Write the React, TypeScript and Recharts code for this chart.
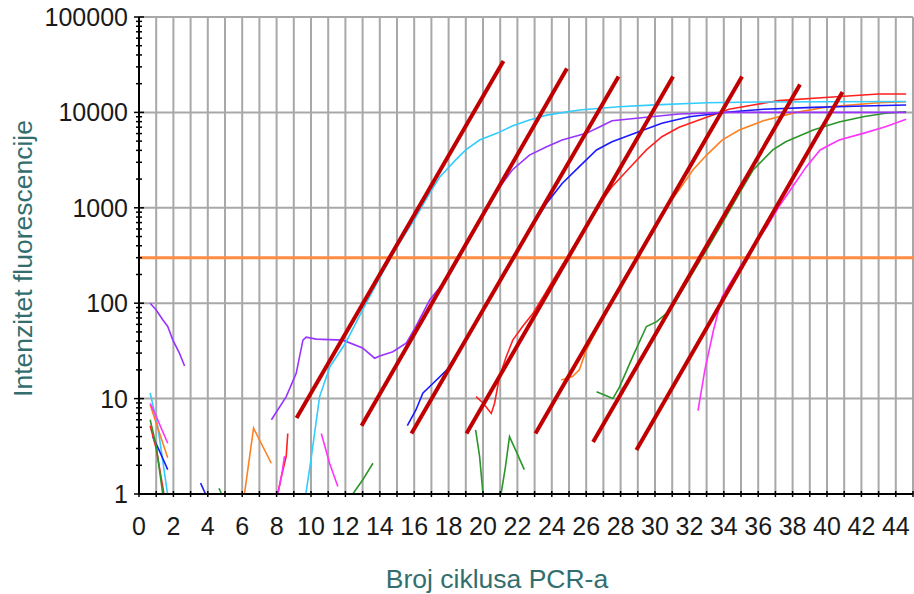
import { LineChart, Line, XAxis, YAxis, CartesianGrid, Label } from "recharts";

type Pair = [number, number];

// y-axis decades (log scale) and x cycles
const yDecades = [1, 10, 100, 1000, 10000, 100000];
const yTicks = yDecades.flatMap((d) => (d === 100000 ? [d] : [1, 2, 3, 4, 5, 6, 7, 8, 9].map((m) => m * d)));
const xTicks = Array.from({ length: 46 }, (_, i) => i);

const threshold = 300;

// amplification curves (cycle, fluorescence)
const cyanEarly: Pair[] = [[0.65, 11.5], [1.1, 5], [1.66, 1]];
const cyanMain: Pair[] = [
  [9.7, 1], [10.0, 2.3], [10.5, 10.5], [11.1, 21.6], [12, 38], [13, 85], [14, 185], [15, 390], [16, 750],
  [16.9, 1430], [17.5, 2120], [18.4, 3160], [19, 4040], [19.8, 5130], [20.8, 6030], [21.7, 7200], [22.7, 8320],
  [23.7, 9360], [25.6, 10600], [27.9, 11480], [30, 12000], [33, 12600], [36, 12850], [40, 12950], [44.6, 13000],
];

const purpleEarly: Pair[] = [[0.65, 100], [1.0, 85], [1.38, 67], [1.67, 57], [1.97, 41], [2.35, 30], [2.65, 22]];
const purpleMain: Pair[] = [
  [7.7, 6], [8.56, 10.5], [9.14, 18.4], [9.53, 41], [9.72, 44], [10.3, 42], [11.85, 41], [13.0, 34], [13.7, 26.5],
  [14.0, 28], [14.76, 31], [15.53, 38], [16.1, 57], [16.9, 108], [18, 190], [19, 400], [20, 820], [21, 1680],
  [21.7, 2490], [22.7, 3570], [23.7, 4370], [24.6, 5130], [26, 6030], [26.8, 7080], [27.5, 8180], [29.5, 8900],
  [31.4, 9620], [34.3, 10000], [44.6, 10000],
];

const blueEarly: Pair[] = [[0.8, 4], [1.2, 2.8], [1.67, 1.8]];
const blueDot: Pair[] = [[3.58, 1.3], [3.87, 1]];
const blueMain: Pair[] = [
  [15.6, 5.2], [16.1, 7.6], [16.5, 11.4], [17.1, 14.5], [17.9, 20], [18.6, 32], [19.2, 48], [20, 85], [21, 170],
  [21.7, 284], [22.7, 585], [23.7, 1115], [24.6, 1800], [25.6, 2700], [26.6, 4040], [27.5, 4930], [28.9, 6120],
  [30.4, 7690], [32, 9020], [34.3, 10100], [36.3, 10800], [39.2, 11300], [42.1, 11670], [44.6, 11960],
];

const redEarly: Pair[] = [[0.65, 5.2], [1.0, 3], [1.45, 1]];
const redNoise: Pair[] = [[8.07, 1], [8.27, 1.5], [8.56, 2.5], [8.65, 4.3]];
const redMain: Pair[] = [
  [19.6, 10.5], [20.0, 9], [20.48, 7], [20.67, 8.9], [20.96, 17], [21.35, 27.5], [21.73, 41], [22.3, 57],
  [22.9, 78], [23.5, 117], [24, 166], [25, 328], [26, 646], [26.8, 1115], [27.5, 1660], [28.5, 2600],
  [29.5, 4040], [30.4, 5560], [31.4, 6980], [33, 8890], [34.3, 10800], [35.7, 11960], [37.2, 13300],
  [40.1, 14400], [43, 15600], [44.6, 15600],
];

const orangeEarly: Pair[] = [[0.65, 8.6], [1.0, 5.5], [1.67, 2.4]];
const orangeBump: Pair[] = [[6.13, 1], [6.66, 4.9], [7.69, 2.1]];
const orangeMain: Pair[] = [
  [24.55, 15.7], [25.2, 17], [25.6, 20], [26, 32], [26.4, 44.6], [26.9, 67], [28, 148], [29, 300], [30, 616],
  [30.8, 1115], [31.4, 1540], [32.2, 2490], [33, 3570], [33.9, 5130], [34.9, 6540], [36.3, 8180], [38.2, 10000],
  [40.1, 11480], [43, 12600], [44.6, 12950],
];

const greenEarly: Pair[] = [[0.65, 6], [1.0, 3.2], [1.38, 1]];
const greenDot: Pair[] = [[4.65, 1.15], [4.8, 1]];
const greenNoiseA: Pair[] = [[12.43, 1], [13.0, 1.4], [13.6, 2.1]];
const greenNoiseB: Pair[] = [[19.57, 4.7], [19.8, 2.5], [20, 1]];
const greenNoiseC: Pair[] = [[21.05, 1], [21.3, 1.9], [21.54, 4], [21.93, 2.8], [22.4, 1.8]];
const greenMain: Pair[] = [
  [26.6, 11.8], [27.55, 10], [27.94, 13.3], [28.7, 27.4], [29.5, 57], [30.1, 64], [30.65, 78], [31, 92],
  [32, 182], [33, 363], [33.9, 687], [34.9, 1420], [35.7, 2490], [36.85, 4040], [37.6, 4930], [39.2, 6540],
  [40.7, 7950], [42.1, 9020], [43.4, 9780], [44.6, 10170],
];

const magentaEarly: Pair[] = [[0.65, 8.9], [1.0, 6.5], [1.67, 3.4]];
const magentaNoiseA: Pair[] = [[8.07, 1], [8.3, 1.6], [8.46, 2.5]];
const magentaNoiseB: Pair[] = [[10.6, 4.3], [11.08, 2.1], [11.56, 1.2]];
const magentaMain: Pair[] = [
  [32.5, 7.5], [32.9, 20], [33.4, 52], [33.9, 117], [35.3, 307], [36.5, 633], [37.2, 1025], [38, 1660],
  [38.8, 2700], [39.6, 4040], [40.7, 5130], [42.1, 6030], [43.4, 7080], [44.6, 8470],
];

// dark red efficiency guide lines (start, end)
const slopeLines: Pair[][] = [
  [[9.16, 6.26], [21.19, 34600]],
  [[12.94, 5.2], [24.88, 28840]],
  [[15.84, 4.31], [27.88, 23770]],
  [[19.04, 4.31], [31.05, 23770]],
  [[23.05, 4.31], [35.06, 23770]],
  [[26.4, 3.51], [38.43, 19630]],
  [[28.92, 2.89], [40.9, 16370]],
];

const COLORS = {
  cyan: "#33ccff",
  purple: "#9933ff",
  blue: "#1a1aff",
  red: "#ff2020",
  orange: "#ff8020",
  green: "#2a962a",
  magenta: "#ff33ff",
};

const curves: { data: Pair[]; color: string }[] = [
  { data: cyanEarly, color: COLORS.cyan },
  { data: purpleEarly, color: COLORS.purple },
  { data: blueEarly, color: COLORS.blue },
  { data: blueDot, color: COLORS.blue },
  { data: redEarly, color: COLORS.red },
  { data: redNoise, color: COLORS.red },
  { data: orangeEarly, color: COLORS.orange },
  { data: orangeBump, color: COLORS.orange },
  { data: greenEarly, color: COLORS.green },
  { data: greenDot, color: COLORS.green },
  { data: greenNoiseA, color: COLORS.green },
  { data: greenNoiseB, color: COLORS.green },
  { data: greenNoiseC, color: COLORS.green },
  { data: magentaEarly, color: COLORS.magenta },
  { data: magentaNoiseA, color: COLORS.magenta },
  { data: magentaNoiseB, color: COLORS.magenta },
  { data: greenMain, color: COLORS.green },
  { data: magentaMain, color: COLORS.magenta },
  { data: orangeMain, color: COLORS.orange },
  { data: redMain, color: COLORS.red },
  { data: blueMain, color: COLORS.blue },
  { data: purpleMain, color: COLORS.purple },
  { data: cyanMain, color: COLORS.cyan },
];

const toPts = (d: Pair[]) => d.map(([x, y]) => ({ x, y }));

const FONT = "'Liberation Sans', Arial, sans-serif";
const TITLE_COLOR = "#336e6e";

const XTick = (props: any) => {
  const { x, y, payload } = props;
  const v = payload.value as number;
  return (
    <g>
      <line x1={x} x2={x} y1={y - 3} y2={y + 3} stroke="#000" strokeWidth={1.5} />
      {v % 2 === 0 && v <= 44 && (
        <text x={x} y={y + 41} textAnchor="middle" fontSize={25} fill="#1a1a1a" fontFamily={FONT}>
          {v}
        </text>
      )}
    </g>
  );
};

const YTick = (props: any) => {
  const { x, y, payload } = props;
  const v = payload.value as number;
  const major = yDecades.includes(v);
  const half = major ? 5 : 3;
  return (
    <g>
      <line x1={x - half} x2={x + half} y1={y} y2={y} stroke="#000" strokeWidth={1.5} />
      {major && (
        <text x={x - 11} y={y} dy="0.36em" textAnchor="end" fontSize={25} fill="#1a1a1a" fontFamily={FONT}>
          {v}
        </text>
      )}
    </g>
  );
};

export default function App() {
  return (
    <div style={{ position: "absolute", left: 0, top: 0, background: "#fff" }}>
      <LineChart width={914} height={594} margin={{ top: 17, right: 1, bottom: 0, left: 0 }}>
        <CartesianGrid stroke="#a8a8a8" strokeWidth={2} horizontalValues={yDecades} verticalValues={xTicks} />
        <XAxis
          type="number"
          dataKey="x"
          domain={[0, 45]}
          ticks={xTicks}
          interval={0}
          allowDataOverflow
          height={100}
          tickSize={0}
          tickMargin={0}
          tickLine={false}
          tick={<XTick />}
          axisLine={{ stroke: "#000", strokeWidth: 2 }}
        >
          <Label
            content={(p: any) => {
              const vb = p.viewBox;
              return (
                <text x={vb.x + vb.width / 2 - 29} y={vb.y + 94} textAnchor="middle" fontSize={26.5} fill={TITLE_COLOR} fontFamily={FONT}>
                  Broj ciklusa PCR-a
                </text>
              );
            }}
          />
        </XAxis>
        <YAxis
          type="number"
          scale="log"
          domain={[1, 100000]}
          ticks={yTicks}
          interval={0}
          allowDataOverflow
          width={139}
          tickSize={0}
          tickMargin={0}
          tickLine={false}
          tick={<YTick />}
          axisLine={{ stroke: "#000", strokeWidth: 2 }}
        >
          <Label
            content={(p: any) => {
              const vb = p.viewBox;
              const cx = 32;
              const cy = vb.y + vb.height / 2 + 3;
              return (
                <text x={cx} y={cy} transform={`rotate(-90 ${cx} ${cy})`} textAnchor="middle" fontSize={26.5} fill={TITLE_COLOR} fontFamily={FONT}>
                  Intenzitet fluorescencije
                </text>
              );
            }}
          />
        </YAxis>

        {curves.map((c, i) => (
          <Line
            key={`c${i}`}
            data={toPts(c.data)}
            dataKey="y"
            type="linear"
            stroke={c.color}
            strokeWidth={1.6}
            dot={false}
            activeDot={false}
            isAnimationActive={false}
          />
        ))}

        <Line
          data={[{ x: 0, y: threshold }, { x: 45, y: threshold }]}
          dataKey="y"
          type="linear"
          stroke="#ff8c42"
          strokeWidth={3}
          dot={false}
          activeDot={false}
          isAnimationActive={false}
        />

        {slopeLines.map((s, i) => (
          <Line
            key={`s${i}`}
            data={toPts(s)}
            dataKey="y"
            type="linear"
            stroke="#c00000"
            strokeWidth={4}
            dot={false}
            activeDot={false}
            isAnimationActive={false}
          />
        ))}
      </LineChart>
    </div>
  );
}
